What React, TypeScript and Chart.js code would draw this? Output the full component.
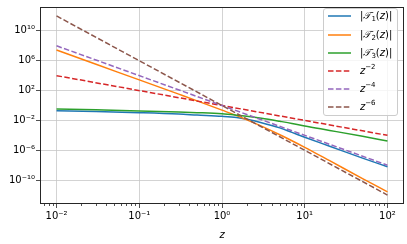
import React, { useEffect, useRef } from "react";
import { Chart, registerables } from "chart.js";

Chart.register(...registerables);

// ---- data ----
const zVals = [0.01, 0.03, 0.1, 0.3, 0.5, 1, 1.5, 2, 3, 5, 7, 10, 20, 50, 100];
const t1Vals = [0.2, 0.16, 0.11, 0.071, 0.052, 0.035, 0.024, 0.014, 5e-3, 1e-3, 2.5e-4, 5.6e-5, 3.5e-6, 8.9e-8, 6.3e-9];
const t2Vals = [2.7e7, 3.3e5, 2.7e3, 33, 4.2, 0.24, 0.044, 0.012, 1.7e-3, 1.2e-4, 1.9e-5, 2.5e-6, 4e-8, 1.6e-10, 2.7e-12];
const t3Vals = [0.34, 0.26, 0.19, 0.135, 0.11, 0.076, 0.05, 0.035, 0.019, 7.6e-3, 4e-3, 1.8e-3, 4.6e-4, 7.4e-5, 1.74e-5];

const powerZ = [0.01, 100];
const zm2Vals = [1e4, 1e-4];
const zm4Vals = [1e8, 1e-8];
const zm6Vals = [1e12, 1e-12];

const xTickValues = [1e-2, 1e-1, 1, 10, 100];
const xTickLabels = ["10\u207B\u00B2", "10\u207B\u00B9", "10\u2070", "10\u00B9", "10\u00B2"];
const yTickValues = [1e-10, 1e-6, 1e-2, 1e2, 1e6, 1e10];
const yTickLabels = ["10\u207B\u00B9\u2070", "10\u207B\u2076", "10\u207B\u00B2", "10\u00B2", "10\u2076", "10\u00B9\u2070"];

const colors = ["#1f77b4", "#ff7f0e", "#2ca02c", "#d62728", "#9467bd", "#8c564b"];
const FONT = "'DejaVu Sans', sans-serif";

const pts = (xs: number[], ys: number[]) => xs.map((x, i) => ({ x, y: ys[i] }));

const frameMinor = {
  id: "frameMinor",
  afterDatasetsDraw(chart: any) {
    const { ctx, chartArea } = chart;
    const { left, right, top, bottom } = chartArea;
    const xs = chart.scales.x;
    ctx.save();
    ctx.strokeStyle = "#262626";
    ctx.lineWidth = 0.8;
    for (let d = -3; d <= 2; d++) {
      for (let k = 2; k <= 9; k++) {
        const v = k * Math.pow(10, d);
        if (v < xs.min || v > xs.max) continue;
        const px = Math.round(xs.getPixelForValue(v)) + 0.5;
        ctx.beginPath();
        ctx.moveTo(px, bottom);
        ctx.lineTo(px, bottom + 2);
        ctx.stroke();
      }
    }
    ctx.lineWidth = 1;
    ctx.strokeRect(left + 0.5, top + 0.5, right - left - 1, bottom - top - 1);
    ctx.restore();
  },
};

function labelFor(values: number[], labels: string[], v: number) {
  for (let i = 0; i < values.length; i++) {
    if (Math.abs(Math.log10(v) - Math.log10(values[i])) < 1e-6) return labels[i];
  }
  return "";
}

const legendItems = [
  { kind: "T", idx: "1", dash: false },
  { kind: "T", idx: "2", dash: false },
  { kind: "T", idx: "3", dash: false },
  { kind: "z", idx: "\u22122", dash: true },
  { kind: "z", idx: "\u22124", dash: true },
  { kind: "z", idx: "\u22126", dash: true },
];

export default function App() {
  const ref = useRef<HTMLCanvasElement | null>(null);

  useEffect(() => {
    if (!ref.current) return;
    const solid = (data: any, i: number, label: string) => ({
      label,
      data,
      borderColor: colors[i],
      backgroundColor: colors[i],
      borderWidth: 1.5,
      pointRadius: 0,
      cubicInterpolationMode: "monotone",
      order: 6 - i,
    });
    const dashed = (data: any, i: number, label: string) => ({
      label,
      data,
      borderColor: colors[i],
      backgroundColor: colors[i],
      borderWidth: 1.5,
      borderDash: [5.5, 2.4],
      pointRadius: 0,
      order: 6 - i,
    });
    const chart = new Chart(ref.current, {
      type: "line",
      data: {
        datasets: [
          solid(pts(zVals, t1Vals), 0, "|T1(z)|"),
          solid(pts(zVals, t2Vals), 1, "|T2(z)|"),
          solid(pts(zVals, t3Vals), 2, "|T3(z)|"),
          dashed(pts(powerZ, zm2Vals), 3, "z^-2"),
          dashed(pts(powerZ, zm4Vals), 4, "z^-4"),
          dashed(pts(powerZ, zm6Vals), 5, "z^-6"),
        ] as any,
      },
      options: {
        animation: false,
        responsive: false,
        layout: { padding: { top: 3, right: 3, left: 0, bottom: 0 } },
        plugins: { legend: { display: false }, tooltip: { enabled: false } },
        scales: {
          x: {
            type: "logarithmic",
            min: Math.pow(10, -2.2),
            max: Math.pow(10, 2.2),
            afterBuildTicks: (s: any) => {
              s.ticks = xTickValues.map((v) => ({ value: v }));
            },
            afterFit: (s: any) => {
              s.height = 40;
            },
            ticks: {
              callback: (v: any) => labelFor(xTickValues, xTickLabels, Number(v)),
              font: { family: FONT, size: 10 },
              color: "#000",
              padding: 2,
              maxRotation: 0,
              autoSkip: false,
            },
            grid: { color: "#c8c8c8", lineWidth: 0.8, tickLength: 4, tickColor: "#262626" },
            border: { display: false },
            title: {
              display: true,
              text: "z",
              color: "#000",
              font: { family: FONT, size: 10, style: "italic" },
              padding: { top: 0, bottom: 3 },
            },
          },
          y: {
            type: "logarithmic",
            min: Math.pow(10, -13.2),
            max: Math.pow(10, 13.2),
            afterBuildTicks: (s: any) => {
              s.ticks = yTickValues.map((v) => ({ value: v }));
            },
            afterFit: (s: any) => {
              s.width = 40;
            },
            ticks: {
              callback: (v: any) => labelFor(yTickValues, yTickLabels, Number(v)),
              font: { family: FONT, size: 10 },
              color: "#000",
              padding: 1,
              autoSkip: false,
            },
            grid: { color: "#c8c8c8", lineWidth: 0.8, tickLength: 4, tickColor: "#262626" },
            border: { display: false },
          },
        },
      } as any,
      plugins: [frameMinor],
    });
    return () => chart.destroy();
  }, []);

  return (
    <div style={{ position: "fixed", left: 0, top: 0, width: 407, height: 244, background: "#fff" }}>
      <canvas ref={ref} width={407} height={244} style={{ display: "block" }} />
      <div
        style={{
          position: "absolute",
          left: 323,
          top: 8,
          width: 75,
          height: 108,
          background: "rgba(255,255,255,0.8)",
          border: "1px solid #cccccc",
          borderRadius: 3,
          boxSizing: "border-box",
          fontFamily: FONT,
          fontSize: 10,
          color: "#000",
        }}
      >
        {legendItems.map((it, i) => (
          <div
            key={i}
            style={{
              position: "absolute",
              left: 0,
              top: 8.4 + 18.2 * i - 1 - 8,
              height: 16,
              width: 73,
              display: "flex",
              alignItems: "center",
            }}
          >
            <svg width={23} height={4} style={{ position: "absolute", left: 4 }}>
              <line
                x1={0}
                y1={2}
                x2={23}
                y2={2}
                stroke={colors[i]}
                strokeWidth={1.5}
                strokeDasharray={it.dash ? "5.5 2.4" : undefined}
              />
            </svg>
            <span style={{ position: "absolute", left: 36, whiteSpace: "nowrap", lineHeight: "16px" }}>
              {it.kind === "T" ? (
                <>
                  |<span style={{ fontStyle: "italic" }}>{"\uD835\uDCAF"}</span>
                  <sub style={{ fontSize: 7, verticalAlign: "-2px", lineHeight: 0 }}>{it.idx}</sub>(
                  <span style={{ fontStyle: "italic" }}>z</span>)|
                </>
              ) : (
                <>
                  <span style={{ fontStyle: "italic" }}>z</span>
                  <sup style={{ fontSize: 7, verticalAlign: "5px", lineHeight: 0 }}>{it.idx}</sup>
                </>
              )}
            </span>
          </div>
        ))}
      </div>
    </div>
  );
}
